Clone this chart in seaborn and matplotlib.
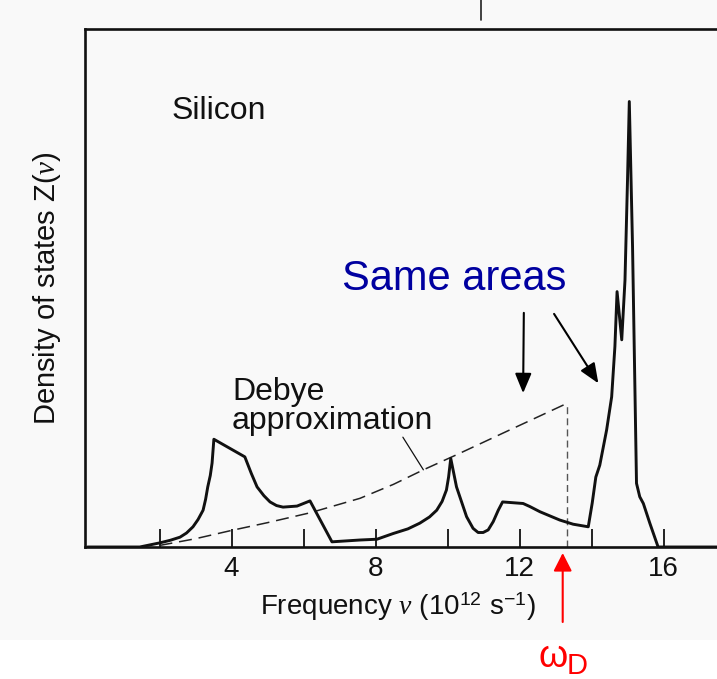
import matplotlib
matplotlib.use("Agg")
import matplotlib.pyplot as plt
from matplotlib.patches import Rectangle
from matplotlib.lines import Line2D
import seaborn as sns
import pandas as pd

# Phonon density of states of silicon, frequency in 10^12 s^-1, Z in arbitrary units
si_nu = [0.0, 1.45, 2.01, 2.3, 2.57, 2.75, 2.93, 3.07, 3.21, 3.28, 3.34, 3.41,
         3.46, 3.51, 4.37, 4.55, 4.71, 4.9, 5.07, 5.25, 5.43, 5.82, 6.18, 6.79,
         7.57, 8.04, 8.49, 8.9, 9.23, 9.5, 9.70, 9.85, 9.97, 10.03, 10.09, 10.25,
         10.53, 10.71, 10.85, 10.99, 11.13, 11.27, 11.41, 11.53, 12.10, 12.29,
         12.57, 13.12, 13.49, 13.91, 14.02, 14.12, 14.23, 14.42, 14.56, 14.65,
         14.71, 14.84, 14.93, 15.00, 15.05, 15.14, 15.25, 15.34, 15.44, 15.62,
         15.85, 18.5]
si_z = [0.0, 0.0, 0.8, 1.3, 1.9, 2.7, 3.9, 5.3, 7.1, 9.2, 11.6, 13.8,
        16.2, 20.8, 17.4, 14.2, 11.6, 9.9, 8.7, 8.0, 7.7, 7.9, 8.9, 1.0,
        1.35, 1.5, 2.6, 3.5, 4.6, 5.8, 7.1, 8.8, 11.0, 13.5, 17.1, 11.6,
        5.85, 3.6, 2.8, 2.8, 3.3, 4.9, 7.1, 8.7, 8.4, 7.8,
        6.8, 5.2, 4.4, 3.9, 8.5, 13.5, 15.8, 22.6, 29.0, 38.7,
        49.3, 40.0, 51.5, 70.8, 86.0, 58.0, 12.3, 9.7, 8.4, 4.6,
        0.0, 0.0]

# Debye approximation, ending at the Debye frequency
debye_nu = [2.0, 3.0, 4.0, 5.0, 6.18, 7.57, 8.5, 9.33, 10.25, 11.73, 13.31]
debye_z = [0.3, 1.6, 3.2, 4.7, 6.6, 9.4, 12.1, 14.9, 17.8, 22.6, 27.7]

tick_pos = [2, 4, 6, 8, 10, 12, 14, 16]
tick_labels = ["", "4", "", "8", "", "12", "", "16"]

si_df = pd.DataFrame({"nu": si_nu, "Z": si_z})
debye_df = pd.DataFrame({"nu": debye_nu, "Z": debye_z})

sns.set_theme(style="white")
plt.rcParams["font.family"] = ["Liberation Sans", "DejaVu Sans"]
plt.rcParams["mathtext.fontset"] = "custom"
plt.rcParams["mathtext.rm"] = "Liberation Sans"
plt.rcParams["mathtext.it"] = "Liberation Serif:italic"
plt.rcParams["mathtext.bf"] = "Liberation Sans:bold"

W, H = 717, 679
fig = plt.figure(figsize=(W / 100, H / 100), dpi=100)
fig.patch.set_facecolor("white")
fig.patches.append(Rectangle((0, 1 - 640 / H), 1, 640 / H, transform=fig.transFigure,
                             facecolor="#f9f9f9", edgecolor="none", zorder=-10))

ax = fig.add_axes([85 / W, 1 - 547 / H, 668.5 / W, 518 / H])
ax.set_zorder(1)
ax.set_facecolor("none")

sns.lineplot(data=debye_df, x="nu", y="Z", ax=ax, color="#222222", lw=1.1,
             sort=False, estimator=None, zorder=2)
ax.lines[-1].set_linestyle((0, (8.5, 4.5)))
ax.plot([debye_nu[-1], debye_nu[-1]], [0, debye_z[-1]], color="#555555", lw=1.0,
        linestyle=(0, (5, 3)), zorder=2)
sns.lineplot(data=si_df, x="nu", y="Z", ax=ax, color="#111111", lw=2.1,
             sort=False, estimator=None, zorder=3)

ax.set_xlim(-0.07, 18.5)
ax.set_ylim(0, 100)
ax.set_xticks(tick_pos)
ax.set_xticklabels(tick_labels)
ax.set_yticks([])
ax.tick_params(axis="x", bottom=True, direction="in", length=13, width=1.3, pad=6.5,
               labelsize=20, color="#111111", labelcolor="#111111")
for side in ["left", "top", "bottom", "right"]:
    ax.spines[side].set_linewidth(1.9)
    ax.spines[side].set_color("#111111")

ax.set_xlabel("Frequency $\\nu$ (10$^{12}$ s$^{-1}$)", fontsize=20, color="#111111")
ax.xaxis.set_label_coords(0.468, -0.085)
ax.set_ylabel("Density of states Z($\\nu$)", fontsize=21, color="#111111")
ax.yaxis.set_label_coords(-0.033, 0.5)

ax.text(2.34, 82.6, "Silicon", fontsize=23, color="#111111", va="baseline")
ax.text(4.01, 28.4, "Debye", fontsize=23, color="#111111", va="baseline")
ax.text(4.01, 22.8, "approximation", fontsize=23, color="#111111", va="baseline")
ax.annotate("", xy=(9.33, 14.9), xytext=(8.76, 21.2),
            arrowprops=dict(arrowstyle="-", lw=0.9, color="#111111",
                            shrinkA=0, shrinkB=0))

ax.text(10.18, 49.6, "Same areas", fontsize=30, color="#0000a0",
        ha="center", va="baseline")
head = "-|>,head_length=0.6,head_width=0.25"
ax.annotate("", xy=(12.10, 29.7), xytext=(12.12, 45.2),
            arrowprops=dict(arrowstyle=head, mutation_scale=20, lw=1.5,
                            color="black", shrinkA=0, shrinkB=0))
ax.annotate("", xy=(14.19, 31.6), xytext=(12.96, 45.0),
            arrowprops=dict(arrowstyle=head, mutation_scale=20, lw=1.5,
                            color="black", shrinkA=0, shrinkB=0))

# Debye frequency marker below the axis
ax.annotate("", xy=(13.2, 1 - 553 / H), xytext=(13.2, 1 - 622 / H),
            xycoords=("data", "figure fraction"), textcoords=("data", "figure fraction"),
            arrowprops=dict(arrowstyle="-|>,head_length=0.55,head_width=0.28",
                            mutation_scale=20, lw=1.5, color="#ff0000",
                            shrinkA=0, shrinkB=0),
            annotation_clip=False)
fig.text(538 / W, 1 - 667 / H, "ω", fontsize=27, color="#ff0000", va="baseline")
fig.text(567 / W, 0.008, "D", fontsize=21, color="#ff0000", va="baseline")

fig.add_artist(Line2D([481 / W, 481 / W], [1, 1 - 20 / H], transform=fig.transFigure,
                      color="#222222", lw=1.2))

fig.savefig("out.png", dpi=100)
